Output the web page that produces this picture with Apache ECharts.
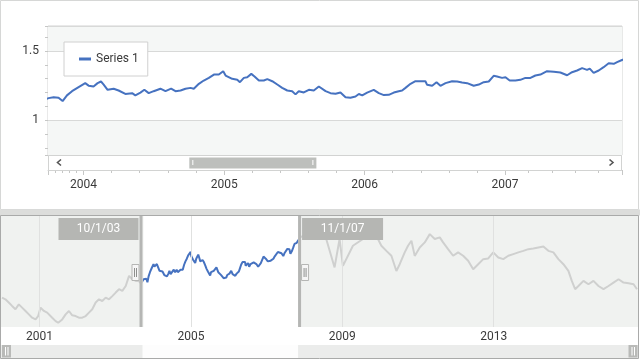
<!DOCTYPE html>
<html><head><meta charset="utf-8">
<script src="https://cdn.jsdelivr.net/npm/echarts@6/dist/echarts.min.js"></script>
<style>html,body{margin:0;padding:0;background:#fff}#c{width:640px;height:360px}</style>
</head><body><div id="c"></div><script>
// ---------------- data ----------------
const seriesName = 'Series 1';
// decimal years
const years = [
2000.009,2000.099,2000.187,2000.274,2000.364,2000.452,2000.539,2000.629,2000.717,2000.804,2000.894,2000.963,
2001.026,2001.114,2001.201,2001.334,2001.424,2001.493,2001.599,2001.689,2001.776,2001.864,2001.954,
2002.041,2002.128,2002.219,2002.306,2002.393,2002.483,2002.571,2002.658,2002.748,2002.836,2002.923,
2003.013,2003.101,2003.188,2003.278,2003.366,2003.453,2003.543,2003.612,2003.680,
2003.752,2003.788,2003.823,2003.852,2003.883,2003.919,2003.966,
2004.013,2004.037,2004.072,2004.101,2004.125,2004.144,2004.172,2004.215,2004.250,2004.298,2004.346,2004.369,2004.405,2004.433,2004.464,2004.499,2004.547,2004.583,2004.595,2004.623,2004.654,2004.690,2004.725,2004.761,2004.784,2004.820,2004.855,2004.891,2004.927,2004.962,2004.993,
2005.010,2005.022,2005.057,2005.093,2005.112,2005.140,2005.164,2005.193,2005.216,2005.247,2005.282,2005.307,2005.342,2005.378,2005.413,2005.449,2005.484,2005.508,2005.531,2005.567,2005.603,2005.638,2005.674,2005.686,2005.722,2005.757,2005.793,2005.828,2005.864,2005.899,2005.935,2005.959,2005.983,
2006.018,2006.065,2006.101,2006.137,2006.172,2006.208,2006.243,2006.267,2006.291,2006.327,2006.362,2006.398,2006.433,2006.445,2006.481,2006.512,2006.540,2006.576,2006.623,2006.659,2006.694,2006.730,2006.777,2006.813,2006.848,2006.884,2006.919,2006.943,2006.979,
2007.003,2007.033,2007.074,2007.109,2007.145,2007.181,2007.216,2007.252,2007.299,2007.347,2007.394,2007.442,2007.477,2007.513,2007.549,2007.584,2007.603,2007.631,2007.667,2007.702,2007.738,2007.774,2007.798,2007.833,
2007.900,2007.980,2008.060,2008.160,2008.250,2008.330,2008.420,2008.500,2008.540,
2008.576,2008.796,2008.928,2009.016,2009.281,2009.546,2009.811,2009.943,
2010.033,2010.166,2010.298,2010.430,2010.518,2010.650,2010.738,2010.828,2010.915,
2011.048,2011.180,2011.313,2011.445,2011.578,2011.665,2011.797,2011.930,
2012.062,2012.195,2012.327,2012.460,2012.592,2012.725,2012.857,2012.989,
2013.122,2013.254,2013.387,2013.519,2013.652,2013.784,2013.917,
2014.049,2014.182,2014.314,2014.446,2014.579,2014.711,2014.844,2014.976,
2015.066,2015.154,2015.241,2015.374,2015.506,2015.639,2015.771,2015.904,
2016.036,2016.168,2016.301,2016.433,2016.566,2016.698,2016.788
];
const values = [
1.029,1.017,0.994,0.970,0.946,0.981,0.958,0.934,0.910,0.886,0.874,0.898,
0.958,0.934,0.922,0.886,0.862,0.850,0.874,0.910,0.934,0.903,0.898,
0.886,0.886,0.898,0.922,0.946,0.994,1.017,1.005,1.029,1.017,1.040,
1.065,1.089,1.077,1.112,1.184,1.160,1.148,1.150,1.130,
1.160,1.167,1.163,1.139,1.180,1.210,1.240,
1.268,1.250,1.244,1.268,1.280,1.258,1.220,1.228,1.215,1.190,1.196,1.180,1.200,1.220,1.196,1.210,1.228,1.210,1.196,1.228,1.210,1.215,1.228,1.234,1.228,1.263,1.287,1.306,1.330,1.330,1.354,
1.323,1.311,1.299,1.292,1.275,1.306,1.311,1.335,1.316,1.287,1.287,1.297,1.282,1.258,1.234,1.215,1.210,1.187,1.210,1.201,1.220,1.215,1.244,1.234,1.210,1.196,1.191,1.201,1.167,1.163,1.172,1.190,1.180,
1.200,1.220,1.196,1.182,1.184,1.200,1.210,1.215,1.234,1.263,1.282,1.282,1.282,1.256,1.249,1.275,1.249,1.268,1.282,1.280,1.273,1.268,1.249,1.258,1.275,1.280,1.321,1.316,1.306,
1.311,1.287,1.287,1.292,1.306,1.306,1.323,1.330,1.354,1.350,1.345,1.325,1.347,1.359,1.376,1.364,1.373,1.342,1.359,1.383,1.411,1.407,1.419,1.435,
1.460,1.470,1.480,1.520,1.570,1.580,1.560,1.590,1.500,
1.446,1.244,1.446,1.255,1.398,1.446,1.460,1.446,
1.398,1.362,1.327,1.219,1.267,1.351,1.398,1.434,1.326,
1.386,1.422,1.481,1.446,1.458,1.422,1.374,1.327,
1.351,1.327,1.291,1.231,1.267,1.303,1.308,1.351,
1.315,1.303,1.327,1.339,1.351,1.362,1.374,
1.379,1.386,1.393,1.362,1.351,1.303,1.267,1.219,
1.148,1.089,1.112,1.148,1.124,1.148,1.112,1.089,
1.112,1.136,1.160,1.136,1.131,1.124,1.089
];
const rangeStart = [2003, 10, 1];   // selected range (y, m, d)
const rangeEnd = [2007, 11, 1];
const navLabelYears = [2001, 2005, 2009, 2013];

// ---------------- helpers ----------------
function toTime(y) {
  const yr = Math.floor(y);
  const s = new Date(yr, 0, 1).getTime(), e = new Date(yr + 1, 0, 1).getTime();
  return s + (y - yr) * (e - s);
}
const times = years.map(toTime);
const data = times.map((t, i) => [t, values[i]]);
const t0 = new Date(rangeStart[0], rangeStart[1] - 1, rangeStart[2]).getTime();
const t1 = new Date(rangeEnd[0], rangeEnd[1] - 1, rangeEnd[2]).getTime();
const tMin = times[0], tMax = times[times.length - 1];
const fmtDate = a => a[1] + '/' + a[2] + '/' + String(a[0]).slice(2);
const DAY = 864e5;

const FONT = 'Roboto, "Open Sans", sans-serif';
const TXT = '#3a3a3a';
const BLUE = '#4672c0';
const GRAY_LINE = '#cfd0cf';
const NAV_BG = '#f0f2f0';
const AX = '#d2d3d2';

const chart = echarts.init(document.getElementById('c'), null, {renderer: 'canvas'});
const yearOnly = list => v => {
  const d = new Date(v);
  if (d.getMonth() !== 0 || d.getDate() !== 1) return '';
  const y = d.getFullYear();
  return (!list || list.indexOf(y) >= 0) ? String(y) : '';
};

const option = {
  animation: false,
  textStyle: {fontFamily: FONT},
  legend: {
    left: 64, top: 42, padding: [11, 9, 11, 15],
    backgroundColor: '#fff', borderColor: '#d0d0d0', borderWidth: 1, borderRadius: 0,
    itemWidth: 12, itemHeight: 3, icon: 'rect',
    textStyle: {fontSize: 12, color: TXT, fontFamily: FONT},
    data: [seriesName]
  },
  grid: [
    {left: 48, top: 26, width: 574, height: 129, show: true, backgroundColor: 'transparent', borderColor: AX, borderWidth: 1},
    {left: 2, top: 216, width: 635, height: 111, show: false}
  ],
  xAxis: [
    {type: 'time', gridIndex: 0, min: t0, max: t1, offset: 15,
     minInterval: 365 * DAY, maxInterval: 366 * DAY,
     axisLine: {show: true, lineStyle: {color: AX}},
     axisTick: {show: true, length: 5, lineStyle: {color: '#c6c7c6'}},
     minorTick: {show: true, splitNumber: 5, length: 3, lineStyle: {color: '#c6c7c6'}},
     axisLabel: {color: TXT, fontSize: 12, margin: 9, fontFamily: FONT, formatter: yearOnly(null)},
     splitLine: {show: false}, minorSplitLine: {show: false}},
    {type: 'time', gridIndex: 1, min: tMin, max: tMax, z: 1,
     minInterval: 365 * DAY, maxInterval: 366 * DAY,
     axisLine: {show: false}, axisTick: {show: false},
     axisLabel: {color: TXT, fontSize: 12, margin: 4, fontFamily: FONT, formatter: yearOnly(navLabelYears)},
     splitLine: {show: false}}
  ],
  yAxis: [
    {type: 'value', gridIndex: 0, min: 0.75, max: 1.68, splitNumber: 2,
     axisLine: {show: false},
     axisTick: {show: true, length: 3, lineStyle: {color: '#c6c7c6'}},
     minorTick: {show: true, splitNumber: 5, length: 3, lineStyle: {color: '#c6c7c6'}},
     axisLabel: {color: TXT, fontSize: 12, margin: 9, fontFamily: FONT, showMinLabel: false, showMaxLabel: false},
     splitLine: {show: true, lineStyle: {color: '#d8d9d8'}},
     splitArea: {show: true, areaStyle: {color: ['#f5f7f6', '#ffffff']}}},
    {type: 'value', gridIndex: 1, min: 0.82, max: 1.61, show: false}
  ],
  visualMap: {
    type: 'piecewise', show: false, dimension: 0, seriesIndex: 2,
    pieces: [{gte: t0, lte: t1, color: BLUE}],
    outOfRange: {color: GRAY_LINE}
  },
  series: [
    {name: seriesName, type: 'line', xAxisIndex: 0, yAxisIndex: 0, data: data,
     symbol: 'none', showSymbol: false, clip: true, z: 3,
     lineStyle: {color: BLUE, width: 2}, itemStyle: {color: BLUE}},
    {name: 'navBg', type: 'line', xAxisIndex: 1, yAxisIndex: 1, data: [[tMin, null]], z: 0, silent: true,
     symbol: 'none',
     markArea: {silent: true, itemStyle: {color: NAV_BG}, label: {show: false},
       data: [[{xAxis: tMin}, {xAxis: t0}], [{xAxis: t1}, {xAxis: tMax}]]},
     markLine: {silent: true, symbol: ['none', 'none'], label: {show: false},
       lineStyle: {color: '#e0e1e0', width: 1, type: 'solid'},
       data: navLabelYears.map(y => ({xAxis: new Date(y, 0, 1).getTime()}))}},
    {name: 'nav', type: 'line', xAxisIndex: 1, yAxisIndex: 1, data: data, z: 2, silent: true,
     symbol: 'none', showSymbol: false, lineStyle: {width: 2}}
  ]
};
chart.setOption(option);

// ---------------- UI furniture (scrollbars, thumbs, labels) ----------------
const px = v => chart.convertToPixel({xAxisIndex: 1}, v);
const p0 = px(t0), p1 = px(t1);
const navTop = 216, navH = 111;
const trackX0 = 73, trackW = 522;
const th0 = trackX0 + (t0 - tMin) / (tMax - tMin) * trackW;
const th1 = trackX0 + (t1 - tMin) / (tMax - tMin) * trackW;
const G = [];
// panel frames
G.push({type: 'rect', z: 0, shape: {x: 0.5, y: 0.5, width: 638, height: 209}, style: {fill: null, stroke: '#d6d7d6', lineWidth: 1}});
G.push({type: 'rect', z: 0, shape: {x: 0, y: 209.5, width: 640, height: 6}, style: {fill: '#dcdddb'}});
G.push({type: 'rect', z: 20, shape: {x: 0.5, y: 215.5, width: 638, height: 143}, style: {fill: null, stroke: '#a9aaa9', lineWidth: 1}});
G.push({type: 'rect', z: 0, shape: {x: 1, y: navTop, width: 1, height: navH}, style: {fill: NAV_BG}});
G.push({type: 'rect', z: 0, shape: {x: 637, y: navTop, width: 1.5, height: navH}, style: {fill: NAV_BG}});
// top scrollbar
G.push({type: 'rect', z: 5, shape: {x: 48.5, y: 155.5, width: 573, height: 15}, style: {fill: '#fff', stroke: AX, lineWidth: 1}});
G.push({type: 'polyline', z: 6, shape: {points: [[61, 159.5], [57.5, 162.5], [61, 165.5]]}, style: {stroke: '#555', lineWidth: 1.6, fill: null}});
G.push({type: 'polyline', z: 6, shape: {points: [[609.5, 159.5], [613, 162.5], [609.5, 165.5]]}, style: {stroke: '#555', lineWidth: 1.6, fill: null}});
G.push({type: 'rect', z: 6, shape: {x: th0, y: 157.5, width: th1 - th0, height: 11}, style: {fill: '#bdbfbc'}});
G.push({type: 'rect', z: 7, shape: {x: th0 + 3, y: 160, width: 1, height: 5}, style: {fill: '#fff'}});
G.push({type: 'rect', z: 7, shape: {x: th1 - 4, y: 160, width: 1, height: 5}, style: {fill: '#fff'}});
// navigator bottom scrollbar
G.push({type: 'rect', z: 5, shape: {x: 1, y: 345, width: 637, height: 13}, style: {fill: '#ebeceb'}});
G.push({type: 'rect', z: 6, shape: {x: p0 - 1, y: 345, width: p1 - p0 + 1, height: 13}, style: {fill: '#fdfdfd'}});
[[2, 345], [628.5, 345]].forEach(([x, y]) => {
  G.push({type: 'rect', z: 7, shape: {x: x, y: y, width: 9, height: 12.5}, style: {fill: '#b9bab8'}});
  G.push({type: 'rect', z: 8, shape: {x: x + 3, y: y + 2, width: 1, height: 8.5}, style: {fill: '#fff'}});
  G.push({type: 'rect', z: 8, shape: {x: x + 5.5, y: y + 2, width: 1, height: 8.5}, style: {fill: '#fff'}});
});
// selection thumbs
G.push({type: 'rect', z: 10, shape: {x: p0 - 4, y: navTop, width: 3, height: navH}, style: {fill: '#b5b6b4'}});
G.push({type: 'rect', z: 10, shape: {x: p1, y: navTop, width: 3, height: navH}, style: {fill: '#b5b6b4'}});
[[p0 - 11.5], [p1 + 3.5]].forEach(([x]) => {
  G.push({type: 'rect', z: 11, shape: {x: x, y: 264.5, width: 7, height: 16}, style: {fill: '#f6f6f6', stroke: '#b5b6b4', lineWidth: 1}});
  G.push({type: 'rect', z: 12, shape: {x: x + 2, y: 268, width: 1, height: 9}, style: {fill: '#8f908e'}});
  G.push({type: 'rect', z: 12, shape: {x: x + 4, y: 268, width: 1, height: 9}, style: {fill: '#8f908e'}});
});
// selection labels
G.push({type: 'rect', z: 11, shape: {x: p0 - 85, y: 218, width: 80, height: 22}, style: {fill: '#b5b6b3'}});
G.push({type: 'text', z: 12, x: p0 - 45, y: 229, style: {text: fmtDate(rangeStart), fill: '#fff', font: '12px ' + FONT, align: 'center', verticalAlign: 'middle'}});
G.push({type: 'rect', z: 11, shape: {x: p1 + 4, y: 218, width: 81, height: 22}, style: {fill: '#b5b6b3'}});
G.push({type: 'text', z: 12, x: p1 + 44.5, y: 229, style: {text: fmtDate(rangeEnd), fill: '#fff', font: '12px ' + FONT, align: 'center', verticalAlign: 'middle'}});
chart.setOption({graphic: G});
</script></body></html>
